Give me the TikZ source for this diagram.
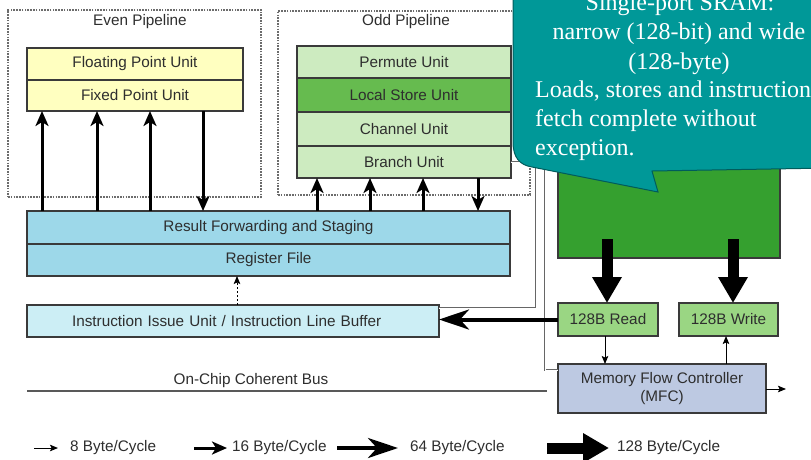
\documentclass[tikz,border=0pt]{standalone}
\usepackage{fontspec}
\setmainfont{Liberation Sans}
\newfontfamily\calloutfont{Liberation Serif}
\usetikzlibrary{arrows.meta}

\definecolor{boxline}{HTML}{3A3A3A}
\definecolor{fpufill}{HTML}{FFFFC0}
\definecolor{oddfill}{HTML}{CDEBC0}
\definecolor{lsufill}{HTML}{66BB4F}
\definecolor{rfsfill}{HTML}{9DD8E9}
\definecolor{iiufill}{HTML}{CCEEF5}
\definecolor{rwfill}{HTML}{9AD683}
\definecolor{lsblockfill}{HTML}{35A02F}
\definecolor{mfcfill}{HTML}{BDC9E2}
\definecolor{callfill}{HTML}{009898}
\definecolor{calledge}{HTML}{005C5C}
\definecolor{wire}{HTML}{666666}
\definecolor{txt}{HTML}{2E2E2E}

\begin{document}
\begin{tikzpicture}[x=1pt,y=-1pt,
  unit/.style={draw=boxline, line width=1.3pt, text=txt,
    font=\fontsize{15.3}{18}\selectfont, inner sep=0pt, outer sep=0pt,
    anchor=north west, align=center},
  pipebox/.style={draw=gray!85!black, line width=1.2pt, dash pattern=on 1.6pt off 1.2pt,
    inner sep=0pt, outer sep=0pt, anchor=north west},
  lbl/.style={text=txt, font=\fontsize{15.3}{18}\selectfont, inner sep=0pt},
  legendtext/.style={lbl, anchor=west},
  a8/.style={line width=1pt, black, -{Stealth[length=8pt,width=6.5pt,inset=1.5pt]}},
  a16/.style={line width=3pt, black, -{Stealth[length=15pt,width=13pt,inset=4pt]}},
  a64/.style={line width=4pt, black, -{Stealth[length=30pt,width=20pt,inset=9pt]}},
  a128/.style={line width=11pt, black, -{Triangle[length=26pt,width=28pt]}},
  wirepath/.style={draw=wire, line width=0.8pt, double=white, double distance=1pt},
  bus/.style={draw=gray!70!black, line width=1.2pt},
  ctext/.style={text=white, font=\calloutfont\fontsize{24}{28}\selectfont, inner sep=0pt}
]
\useasboundingbox (0,0) rectangle (811,459);
\clip (0,0) rectangle (811,459);
\fill[white] (0,0) rectangle (811,459);

% pipeline frames
\node[pipebox, minimum width=253pt, minimum height=187pt] (even) at (8,10) {};
\node[lbl] (evenlbl) at (140,22) {Even Pipeline};
\node[pipebox, minimum width=252pt, minimum height=184pt] (odd) at (278,11) {};
\node[lbl] (oddlbl) at (406,22) {Odd Pipeline};

% even pipeline units
\node[unit, fill=fpufill, minimum width=216pt, minimum height=32pt] (fpu) at (27,48) {Floating Point Unit};
\node[unit, fill=fpufill, minimum width=216pt, minimum height=31pt] (fxu) at (27,80) {Fixed Point Unit};

% odd pipeline units
\node[unit, fill=oddfill, minimum width=214pt, minimum height=32pt] (perm) at (297,46) {Permute Unit};
\node[unit, fill=lsufill, minimum width=214pt, minimum height=34pt] (lsu) at (297,78) {Local Store Unit};
\node[unit, fill=oddfill, minimum width=214pt, minimum height=34pt] (chan) at (297,112) {Channel Unit};
\node[unit, fill=oddfill, minimum width=214pt, minimum height=32pt] (bru) at (297,146) {Branch Unit};

% register file and issue
\node[unit, fill=rfsfill, minimum width=483pt, minimum height=33pt] (rfs) at (27,211) {Result Forwarding and Staging};
\node[unit, fill=rfsfill, minimum width=483pt, minimum height=32pt] (rf) at (27,244) {Register File};
\node[unit, fill=iiufill, minimum width=412pt, minimum height=32pt, text width=380pt, align=left] (iiu) at (27,305) {\hspace*{29pt}Instruction Issue Unit / Instruction Line Buffer};

% local store and DMA path
\node[unit, fill=lsblockfill, minimum width=222pt, minimum height=128pt] (ls) at (558,130) {};
\node[unit, fill=rwfill, minimum width=100pt, minimum height=33pt] (rd) at (558,303) {128B Read};
\node[unit, fill=rwfill, minimum width=99pt, minimum height=33pt] (wr) at (679,303) {128B Write};
\node[unit, fill=mfcfill, minimum width=208pt, minimum height=49pt] (mfc) at (558,364) {Memory Flow Controller\\(MFC)};

% column positions for the datapath arrows
\coordinate (e1) at (42,0);
\coordinate (e2) at (97,0);
\coordinate (e3) at (150,0);
\coordinate (e4) at (203,0);
\coordinate (o1) at (317,0);
\coordinate (o2) at (370,0);
\coordinate (o3) at (423,0);
\coordinate (o4) at (478,0);
\coordinate (iss) at (237,0);
\coordinate (rx) at (607,0);
\coordinate (wx) at (733,0);
\coordinate (rdn) at (605,0);
\coordinate (wrn) at (726,0);
\coordinate (w1) at (536,0);
\coordinate (w2) at (545,0);

% even pipeline operand / result paths
\foreach \c in {e1,e2,e3} \draw[a16] (rfs.north -| \c) -- (fxu.south -| \c);
\draw[a16] (fxu.south -| e4) -- (rfs.north -| e4);

% odd pipeline operand / result paths
\foreach \c in {o1,o2,o3} \draw[a16] (rfs.north -| \c) -- (bru.south -| \c);
\draw[a16] (bru.south -| o4) -- (rfs.north -| o4);

% issue to register file
\draw[a8, dash pattern=on 2pt off 2pt] (iiu.north -| iss) -- (rf.south -| iss);

% control wires
\draw[wirepath] (bru.east) -- (bru.east -| w1) |- ([yshift=-3pt]iiu.north east);
\draw[wirepath] (lsu.east -| w2) |- ([yshift=-6pt]mfc.north west);

% local store read / write ports
\draw[a128] ([yshift=19pt]ls.south -| rx) -- (rd.north -| rx);
\draw[a128] ([yshift=19pt]ls.south -| wx) -- (wr.north -| wx);
\draw[a64] (rd.west) -- (rd.west -| iiu.east);
\draw[a8] (rd.south -| rdn) -- (mfc.north -| rdn);
\draw[a8] (mfc.north -| wrn) -- (wr.south -| wrn);
\coordinate (mfcout) at (786,389);
\draw[a8] (mfc.east |- mfcout) -- (mfcout);

% on-chip bus
\coordinate (busL) at (27,391);
\coordinate (busR) at (547,391);
\draw[bus] (busL) -- (busR);
\node[lbl] (buslbl) at (251,381) {On-Chip Coherent Bus};

% legend
\coordinate (l8a) at (34,448);   \coordinate (l8b) at (58,448);
\coordinate (l16a) at (194,448); \coordinate (l16b) at (227,448);
\coordinate (l64a) at (337,448); \coordinate (l64b) at (398,448);
\coordinate (l128a) at (547,448);\coordinate (l128b) at (609,448);
\draw[a8] (l8a) -- (l8b);
\draw[a16] (l16a) -- (l16b);
\draw[a64] (l64a) -- (l64b);
\draw[a128] (l128a) -- (l128b);
\node[legendtext] (t8) at (70,448) {8 Byte/Cycle};
\node[legendtext] (t16) at (232,448) {16 Byte/Cycle};
\node[legendtext] (t64) at (410,448) {64 Byte/Cycle};
\node[legendtext] (t128) at (617,448) {128 Byte/Cycle};

% callout
\draw[fill=callfill, draw=calledge, line width=1pt]
  (513,-30) -- (513,142) .. controls (513,158) and (520,165) .. (532,167)
  -- (658,192) -- (652,171) -- (830,168) -- (830,-30) -- cycle;
\node[ctext, anchor=base] (c1) at (680,10) {Single-port SRAM:};
\node[ctext, anchor=base] (c2) at (679,39) {narrow (128-bit) and wide};
\node[ctext, anchor=base] (c3) at (679,69) {(128-byte)};
\node[ctext, anchor=base west] (c4) at (535,97) {Loads, stores and instruction};
\node[ctext, anchor=base west] (c5) at (535,126) {fetch complete without};
\node[ctext, anchor=base west] (c6) at (535,155) {exception.};
\end{tikzpicture}
\end{document}
